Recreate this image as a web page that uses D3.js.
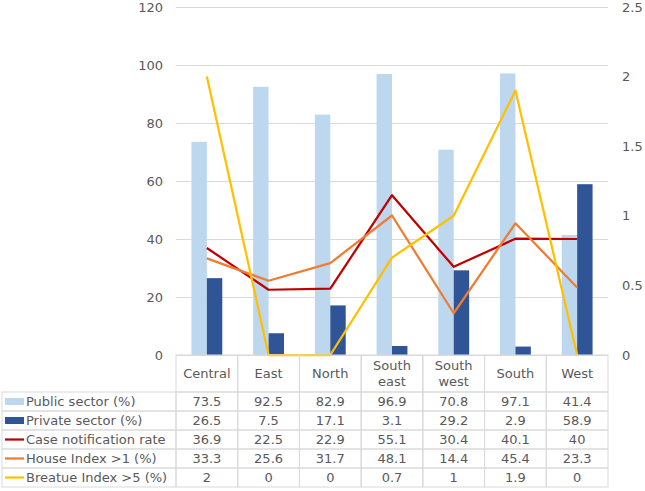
<!DOCTYPE html>
<html>
<head>
<meta charset="utf-8">
<script src="https://cdn.jsdelivr.net/npm/d3@7"></script>
<style>
  body { margin: 0; background: #fff; }
  text { font-family: "DejaVu Sans", Verdana, sans-serif; font-size: 13px; fill: #595959; }
</style>
</head>
<body>
<div id="chart"></div>
<script>
// chart values
let categories = ["Central", "East", "North", "South east", "South west", "South", "West"];
let publicSector = [73.5, 92.5, 82.9, 96.9, 70.8, 97.1, 41.4];
let privateSector = [26.5, 7.5, 17.1, 3.1, 29.2, 2.9, 58.9];
let caseRate = [36.9, 22.5, 22.9, 55.1, 30.4, 40.1, 40];
let houseIndex = [33.3, 25.6, 31.7, 48.1, 14.4, 45.4, 23.3];
let breteauIndex = [2, 0, 0, 0.7, 1, 1.9, 0];
let leftTicks = [0, 20, 40, 60, 80, 100, 120];
let rightTicks = [0, 0.5, 1, 1.5, 2, 2.5];

let series = [
  { name: "Public sector (%)", values: publicSector, color: "#BDD7EE", type: "bar" },
  { name: "Private sector (%)", values: privateSector, color: "#2F5597", type: "bar" },
  { name: "Case notification rate", values: caseRate, color: "#C00000", type: "line", axis: "left" },
  { name: "House Index >1 (%)", values: houseIndex, color: "#ED7D31", type: "line", axis: "left" },
  { name: "Breatue Index >5 (%)", values: breteauIndex, color: "#FFC000", type: "line", axis: "right" },
];

let W = 645, H = 491;
let plot = { left: 176, right: 608, top: 7, bottom: 355 };
let headerH = 37, rowH = 19, tableLeft = 2;

let svg = d3.select("#chart").append("svg").attr("width", W).attr("height", H);

let x = d3.scaleBand().domain(categories).range([plot.left, plot.right]);
let xInner = d3.scaleBand().domain([0, 1]).range([0, x.bandwidth()]).paddingOuter(1);
let yL = d3.scaleLinear().domain([0, 120]).range([plot.bottom, plot.top]);
let yR = d3.scaleLinear().domain([0, 2.5]).range([plot.bottom, plot.top]);

// gridlines
svg.append("g")
  .attr("transform", "translate(" + plot.left + ",0)")
  .call(d3.axisLeft(yL).tickValues(leftTicks).tickSize(-(plot.right - plot.left)).tickFormat(""))
  .call((g) => g.select(".domain").remove())
  .call((g) => g.selectAll("line").attr("stroke", "#D9D9D9"));

// axes labels
svg.append("g")
  .attr("transform", "translate(" + plot.left + ",0)")
  .call(d3.axisLeft(yL).tickValues(leftTicks).tickSize(0).tickPadding(13))
  .call((g) => g.select(".domain").remove())
  .call((g) => g.selectAll("text").attr("font-size", null).attr("font-family", null));

svg.append("g")
  .attr("transform", "translate(" + plot.right + ",0)")
  .call(d3.axisRight(yR).tickValues(rightTicks).tickSize(0).tickPadding(14).tickFormat((d) => d))
  .call((g) => g.select(".domain").remove())
  .call((g) => g.selectAll("text").attr("font-size", null).attr("font-family", null));

// bars
series.filter((s) => s.type === "bar").forEach((s, si) => {
  svg.append("g").selectAll("rect")
    .data(s.values)
    .join("rect")
    .attr("x", (d, i) => x(categories[i]) + xInner(si))
    .attr("width", xInner.bandwidth())
    .attr("y", (d) => yL(d))
    .attr("height", (d) => yL(0) - yL(d))
    .attr("fill", s.color);
});

// lines
series.filter((s) => s.type === "line").forEach((s) => {
  let yS = s.axis === "right" ? yR : yL;
  let line = d3.line()
    .x((d, i) => x(categories[i]) + x.bandwidth() / 2)
    .y((d) => yS(d));
  svg.append("path")
    .datum(s.values)
    .attr("d", line)
    .attr("fill", "none")
    .attr("stroke", s.color)
    .attr("stroke-width", 2.25)
    .attr("stroke-linejoin", "round");
});

// data table
let table = svg.append("g");
let border = "#D9D9D9";
let tableTop = plot.bottom;
let rowsTop = tableTop + headerH;

// header cells
categories.forEach((c) => {
  table.append("rect")
    .attr("x", x(c)).attr("y", tableTop)
    .attr("width", x.bandwidth()).attr("height", headerH)
    .attr("fill", "none").attr("stroke", border);
  let words = c.split(" ");
  let t = table.append("text")
    .attr("text-anchor", "middle")
    .attr("x", x(c) + x.bandwidth() / 2)
    .attr("y", tableTop + headerH / 2 - (words.length - 1) * 8);
  words.forEach((w, wi) => {
    t.append("tspan").attr("x", x(c) + x.bandwidth() / 2).attr("dy", wi === 0 ? "0.35em" : "1.2em").text(w);
  });
});

series.forEach((s, ri) => {
  let ry = rowsTop + ri * rowH;
  table.append("rect")
    .attr("x", tableLeft).attr("y", ry)
    .attr("width", plot.left - tableLeft).attr("height", rowH)
    .attr("fill", "none").attr("stroke", border);
  if (s.type === "bar") {
    table.append("rect").attr("x", 5).attr("y", ry + 6).attr("width", 19).attr("height", 7).attr("fill", s.color);
  } else {
    table.append("line").attr("x1", 5).attr("x2", 24).attr("y1", ry + rowH / 2).attr("y2", ry + rowH / 2)
      .attr("stroke", s.color).attr("stroke-width", 2.25);
  }
  table.append("text").attr("x", 26).attr("y", ry + rowH / 2).attr("dy", "0.35em").text(s.name);
  s.values.forEach((v, i) => {
    table.append("rect")
      .attr("x", x(categories[i])).attr("y", ry)
      .attr("width", x.bandwidth()).attr("height", rowH)
      .attr("fill", "none").attr("stroke", border);
    table.append("text")
      .attr("text-anchor", "middle")
      .attr("x", x(categories[i]) + x.bandwidth() / 2)
      .attr("y", ry + rowH / 2).attr("dy", "0.35em")
      .text(v);
  });
});
</script>
</body>
</html>
